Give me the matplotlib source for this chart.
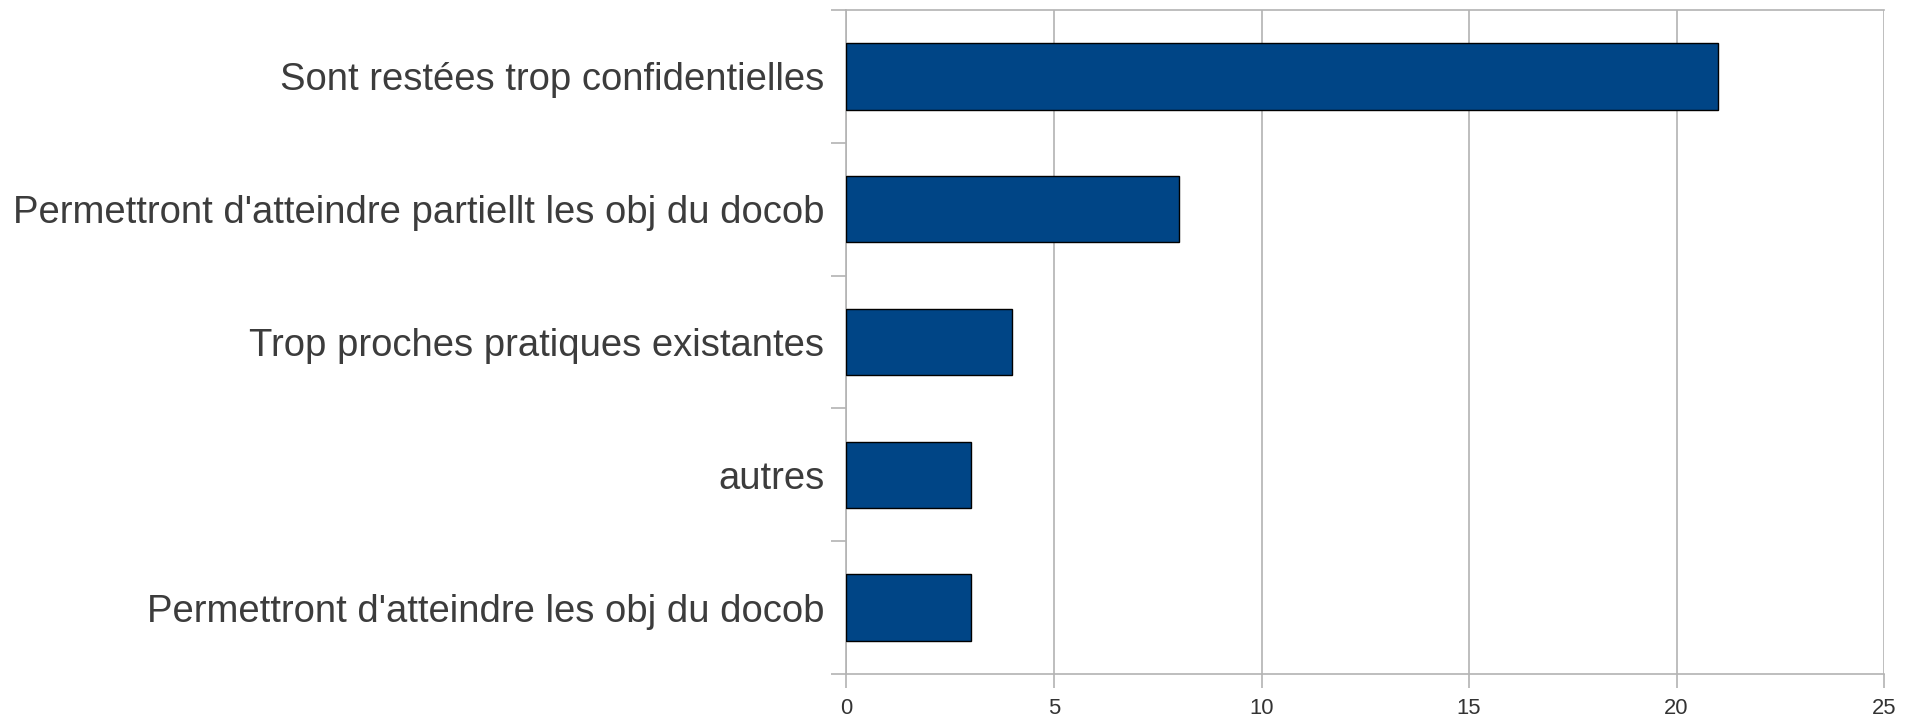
import matplotlib
matplotlib.use("Agg")
import matplotlib.pyplot as plt

categories = [
    "Sont restées trop confidentielles",
    "Permettront d'atteindre partiellt les obj du docob",
    "Trop proches pratiques existantes",
    "autres",
    "Permettront d'atteindre les obj du docob",
]
values = [21, 8, 4, 3, 3]
xticks = [0, 5, 10, 15, 20, 25]

plt.rcParams['font.family'] = ['Liberation Sans', 'DejaVu Sans']

fig = plt.figure(figsize=(19.15, 7.16), dpi=100)
ax = fig.add_axes([846.5 / 1915, 1 - 674 / 716, (1884 - 846.5) / 1915, (674 - 10) / 716])

n = len(categories)
ypos = list(range(n))
ax.barh(ypos, values, height=0.5, color="#004586", edgecolor="black", linewidth=1.0, zorder=3)
ax.set_ylim(n - 0.5, -0.5)
ax.set_xlim(0, 25)
ax.set_xticks(xticks)
ax.set_xticklabels([str(t) for t in xticks], fontsize=15.8, color="#333333")
ax.set_yticks(ypos)
ax.set_yticklabels(categories, fontsize=27.5, color="#3c3c3c")
ax.set_yticks([i - 0.5 for i in range(n + 1)], minor=True)
ax.tick_params(axis='y', which='major', length=0, pad=16)
ax.tick_params(axis='y', which='minor', length=11, color="#b3b3b3", width=1.2)
ax.tick_params(axis='x', which='major', length=10, color="#b3b3b3", width=1.2, pad=7.5)

ax.grid(axis='x', color="#b3b3b3", linewidth=1.2, zorder=0)
for s in ['top', 'bottom', 'left', 'right']:
    ax.spines[s].set_color("#b3b3b3")
    ax.spines[s].set_linewidth(1.2)
ax.spines['right'].set_visible(False)

fig.savefig("out.png", dpi=100)
